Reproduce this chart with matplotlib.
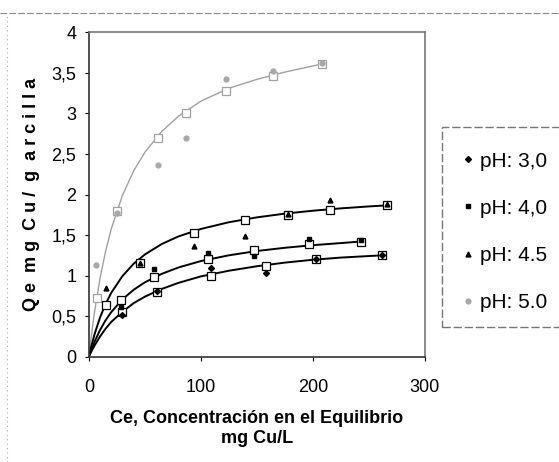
import matplotlib
matplotlib.use("Agg")
import matplotlib.pyplot as plt
from matplotlib.lines import Line2D
from matplotlib.patches import Rectangle

plt.rcParams["font.family"] = ["Liberation Sans", "DejaVu Sans"]

ce_30 = [30, 61, 109, 158, 203, 262]
qe_30 = [0.51, 0.81, 1.09, 1.03, 1.21, 1.25]
ce_40 = [29, 58, 106, 147, 197, 243]
qe_40 = [0.61, 1.08, 1.28, 1.24, 1.45, 1.44]
ce_45 = [15, 46, 94, 139, 178, 215, 266]
qe_45 = [0.85, 1.15, 1.36, 1.49, 1.76, 1.93, 1.88]
ce_50 = [6, 25.5, 62, 87, 122, 164, 208]
qe_50 = [1.13, 1.77, 2.36, 2.70, 3.42, 3.52, 3.62]

# model values (open squares on the curves)
mod_30 = [0.55, 0.80, 1.00, 1.12, 1.20, 1.25]
mod_40 = [0.70, 0.98, 1.21, 1.31, 1.39, 1.42]
mod_45 = [0.64, 1.16, 1.52, 1.68, 1.75, 1.81, 1.87]
ce_m50 = [7, 25.5, 62, 87, 122, 164, 208]
mod_50 = [0.72, 1.80, 2.70, 3.01, 3.28, 3.46, 3.61]

# fitted curves
cx_30 = [0, 2, 5, 10, 15, 20, 30, 40, 50, 65, 80, 100, 125, 150, 175, 200, 225, 262]
cy_30 = [0, 0.058, 0.136, 0.25, 0.346, 0.429, 0.555, 0.66, 0.74, 0.835, 0.91,
         0.99, 1.06, 1.115, 1.16, 1.195, 1.222, 1.25]
cx_40 = [0, 2, 5, 10, 15, 20, 30, 40, 50, 65, 80, 100, 125, 150, 175, 200, 225, 243]
cy_40 = [0, 0.079, 0.183, 0.33, 0.45, 0.55, 0.707, 0.825, 0.917, 1.021, 1.10,
         1.179, 1.25, 1.303, 1.343, 1.375, 1.401, 1.42]
cx_45 = [0, 2, 5, 10, 15, 20, 30, 40, 50, 65, 80, 100, 125, 150, 175, 200, 225, 250, 266]
cy_45 = [0, 0.119, 0.274, 0.485, 0.652, 0.788, 0.995, 1.146, 1.26, 1.389, 1.483,
         1.575, 1.658, 1.718, 1.764, 1.80, 1.829, 1.853, 1.866]
cx_50 = [0, 2, 5, 10, 15, 20, 30, 40, 50, 65, 80, 100, 125, 150, 175, 200, 208]
cy_50 = [0, 0.238, 0.548, 0.970, 1.304, 1.576, 1.991, 2.292, 2.521, 2.777, 2.966,
         3.151, 3.31, 3.42, 3.51, 3.585, 3.61]

labels = ["pH: 3,0", "pH: 4,0", "pH: 4.5", "pH: 5.0"]
yticks = [0, 0.5, 1, 1.5, 2, 2.5, 3, 3.5, 4]
ytick_labels = ["0", "0,5", "1", "1,5", "2", "2,5", "3", "3,5", "4"]

fig = plt.figure(figsize=(5.59, 4.62), dpi=100)
ax = fig.add_axes([0.159, 0.228, 0.601, 0.702])

grey = "#a0a0a0"
ax.plot(cx_50, cy_50, color=grey, lw=1.0, zorder=2)
ax.plot(cx_45, cy_45, color="black", lw=1.4, zorder=2)
ax.plot(cx_40, cy_40, color="black", lw=1.4, zorder=2)
ax.plot(cx_30, cy_30, color="black", lw=1.4, zorder=2)

sq = dict(marker="s", ms=5.5, mfc="white", ls="none", mew=0.9, zorder=3)
ax.plot(ce_m50, mod_50, mec=grey, **sq)
ax.plot(ce_45, mod_45, mec="black", **sq)
ax.plot(ce_40, mod_40, mec="black", **sq)
ax.plot(ce_30, mod_30, mec="black", **sq)

h30, = ax.plot(ce_30, qe_30, "D", color="black", ms=3, ls="none", zorder=4)
h40, = ax.plot(ce_40, qe_40, "s", color="black", ms=3.5, ls="none", zorder=4)
h45, = ax.plot(ce_45, qe_45, "^", color="black", ms=3.5, ls="none", zorder=4)
h50, = ax.plot(ce_50, qe_50, "o", color="#a8a8a8", ms=3.5, ls="none", zorder=4)

ax.set_xlim(0, 300)
ax.set_ylim(0, 4)
ax.set_xticks([0, 100, 200, 300])
ax.set_yticks(yticks)
ax.set_yticklabels(ytick_labels)
ax.tick_params(axis="both", direction="out", length=3, labelsize=13)
ax.tick_params(axis="x", pad=13)
ax.tick_params(axis="y", pad=6)
for side in ("left", "bottom"):
    ax.spines[side].set_color("#333333")
    ax.spines[side].set_linewidth(1.2)
for side in ("top", "right"):
    ax.spines[side].set_color("#777777")
    ax.spines[side].set_linewidth(1.2)

ax.set_xlabel("Ce, Concentración en el Equilibrio\nmg Cu/L", fontsize=13,
              fontweight="bold", labelpad=10, linespacing=1.25)
ax.set_ylabel("Q e  m g  C u /  g  a r c i l l a", fontsize=13,
              fontweight="bold", labelpad=8)

# legend box, cut by the right edge
fig.add_artist(Rectangle((0.791, 0.293), 0.25, 0.433, transform=fig.transFigure,
                         fill=False, ec="#777777", lw=1.0, ls=(0, (6, 2))))
fig.legend([h30, h40, h45, h50], labels, loc="upper left",
           bbox_to_anchor=(0.815, 0.69), frameon=False, fontsize=15,
           handlelength=0.4, handletextpad=0.35, labelspacing=1.35,
           borderaxespad=0)

# scanned page border
fig.add_artist(Line2D([0, 1], [0.972, 0.972], transform=fig.transFigure,
                      color="#888888", lw=0.8, ls=(0, (6, 2))))
fig.add_artist(Line2D([0.013, 0.013], [0, 0.972], transform=fig.transFigure,
                      color="#aaaaaa", lw=0.8, ls=(0, (1, 3))))

fig.savefig("out.png", dpi=100)
